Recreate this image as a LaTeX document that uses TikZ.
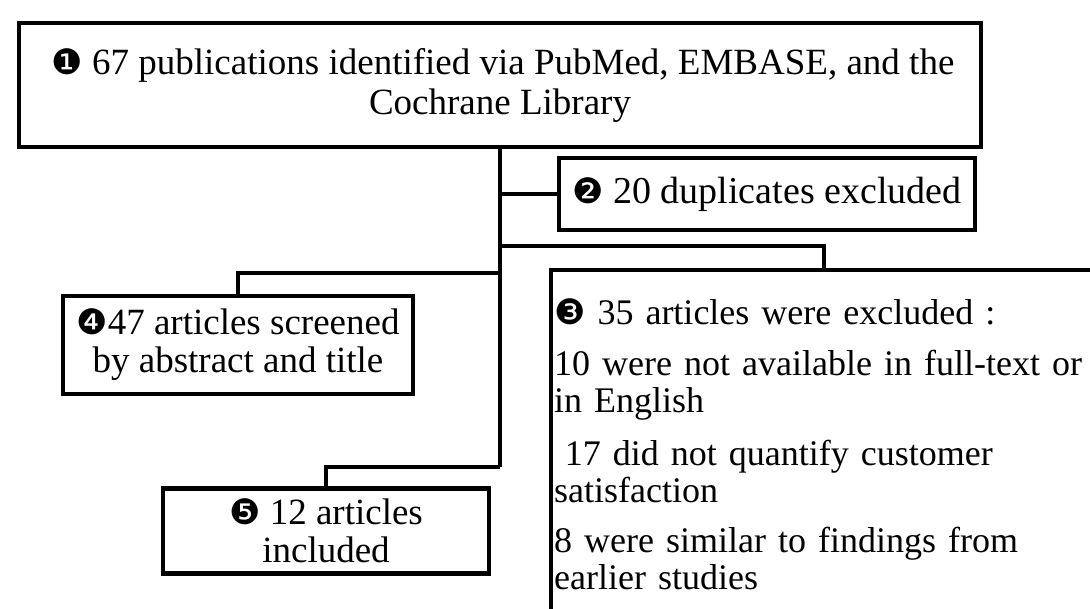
\documentclass[tikz,border=0pt]{standalone}
\usepackage{fontspec}
\setmainfont{Liberation Serif}
\newfontfamily\dingfont{DejaVu Sans}
\newcommand{\dnum}[1]{{\dingfont\fontsize{35}{35}\selectfont #1}}

\begin{document}
\begin{tikzpicture}[x=1pt,y=-1pt,
   every node/.style={font=\fontsize{37}{38}\selectfont},
   box/.style={draw,line width=4.3pt,align=center,inner sep=0pt},
   link/.style={draw,line width=4.3pt}]
\useasboundingbox (0,0) rectangle (1090,609);
\clip (0,0) rectangle (1090,609);
\node[box,minimum width=962pt,minimum height=124pt,font=\fontsize{37}{40}\selectfont] (ident) at (500,85)
   {\hspace*{6pt}\dnum{❶} 67 publications identified via PubMed, EMBASE, and the\\ Cochrane Library};
\node[box,minimum width=416pt,minimum height=72pt,font=\fontsize{38}{38}\selectfont] (dup) at (767,194)
   {\dnum{❷}\ 20 duplicates excluded};
\node[box,minimum width=350pt,minimum height=98pt] (screen) at (238,345)
   {\dnum{❹}47 articles screened\\ by abstract and title};
\node[box,minimum width=326pt,minimum height=85pt] (incl) at (326,531)
   {\dnum{❺} 12 articles\\ included};
\node[box,align=left,anchor=north west,text width=560pt,inner xsep=3pt,
   text height=54pt,text depth=400pt,font=\fontsize{36}{37}\selectfont] (excl) at (549,268)
   {\dnum{❸} 35 articles were excluded :\\[14pt]
    10 were not available in full-text or\\ in English\\[16pt]
    \hspace*{0.3em}17 did not quantify customer\\ satisfaction\\[13pt]
    8 were similar to findings from\\ earlier studies};
% branch points on the trunk
\coordinate (b3) at (500,246);
\coordinate (b4) at (500,273);
\coordinate (b5) at (500,467);
\coordinate (e3) at (824,268);
\draw[link] (ident.south) -- (b5);
\draw[link] (b5 |- dup.west) -- (dup.west);
\draw[link] (b3) -| (e3);
\draw[link] (screen.north) |- (b4);
\draw[link] (incl.north) |- (b5);
\end{tikzpicture}
\end{document}
